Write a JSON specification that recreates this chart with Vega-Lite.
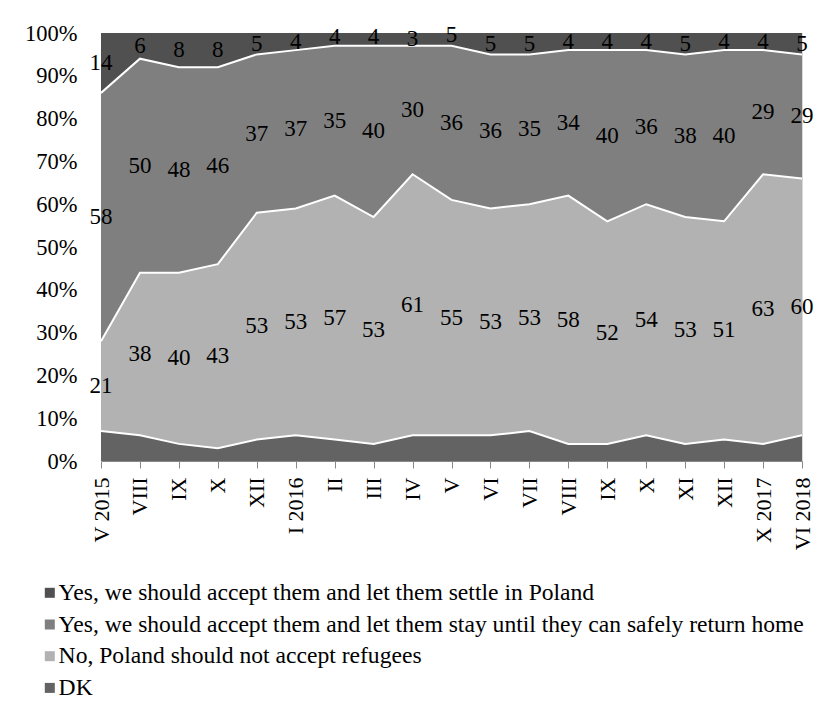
{
  "$schema": "https://vega.github.io/schema/vega-lite/v6.json",
  "width": 701,
  "height": 428,
  "autosize": "none",
  "padding": {"left": 101, "top": 33, "right": 22, "bottom": 256},
  "background": "white",
  "config": {
    "font": "Liberation Serif",
    "view": {"stroke": "#d9d9d9", "strokeWidth": 1}
  },
  "data": {
    "values": [
      {"d": "2015-05", "settle": 14, "stay": 58, "no": 21, "dk": 7},
      {"d": "2015-08", "settle": 6, "stay": 50, "no": 38, "dk": 6},
      {"d": "2015-09", "settle": 8, "stay": 48, "no": 40, "dk": 4},
      {"d": "2015-10", "settle": 8, "stay": 46, "no": 43, "dk": 3},
      {"d": "2015-12", "settle": 5, "stay": 37, "no": 53, "dk": 5},
      {"d": "2016-01", "settle": 4, "stay": 37, "no": 53, "dk": 6},
      {"d": "2016-02", "settle": 4, "stay": 35, "no": 57, "dk": 5},
      {"d": "2016-03", "settle": 4, "stay": 40, "no": 53, "dk": 4},
      {"d": "2016-04", "settle": 3, "stay": 30, "no": 61, "dk": 6},
      {"d": "2016-05", "settle": 5, "stay": 36, "no": 55, "dk": 6},
      {"d": "2016-06", "settle": 5, "stay": 36, "no": 53, "dk": 6},
      {"d": "2016-07", "settle": 5, "stay": 35, "no": 53, "dk": 7},
      {"d": "2016-08", "settle": 4, "stay": 34, "no": 58, "dk": 4},
      {"d": "2016-09", "settle": 4, "stay": 40, "no": 52, "dk": 4},
      {"d": "2016-10", "settle": 4, "stay": 36, "no": 54, "dk": 6},
      {"d": "2016-11", "settle": 5, "stay": 38, "no": 53, "dk": 4},
      {"d": "2016-12", "settle": 4, "stay": 40, "no": 51, "dk": 5},
      {"d": "2017-10", "settle": 4, "stay": 29, "no": 63, "dk": 4},
      {"d": "2018-06", "settle": 5, "stay": 29, "no": 60, "dk": 6}
    ]
  },
  "transform": [
    {"fold": ["dk", "no", "stay", "settle"], "as": ["key", "value"]},
    {"calculate": "indexof(['dk','no','stay','settle'], datum.key)", "as": "ord"},
    {"stack": "value", "groupby": ["d"], "sort": [{"field": "ord", "order": "ascending"}], "as": ["y0", "y1"]},
    {"calculate": "(datum.y0 + datum.y1) / 2", "as": "ymid"}
  ],
  "encoding": {
    "x": {
      "field": "d",
      "type": "ordinal",
      "sort": "ascending",
      "scale": {"type": "point", "padding": 0},
      "axis": {
        "title": null,
        "labelAngle": -90,
        "labelFontSize": 22,
        "labelColor": "#000000",
        "labelPadding": 9,
        "tickSize": 7,
        "tickColor": "#888888",
        "domainColor": "#888888",
        "labelExpr": "{'2015-05':'V 2015','2015-08':'VIII','2015-09':'IX','2015-10':'X','2015-12':'XII','2016-01':'I 2016','2016-02':'II','2016-03':'III','2016-04':'IV','2016-05':'V','2016-06':'VI','2016-07':'VII','2016-08':'VIII','2016-09':'IX','2016-10':'X','2016-11':'XI','2016-12':'XII','2017-10':'X 2017','2018-06':'VI 2018'}[datum.value]"
      }
    }
  },
  "layer": [
    {
      "mark": {"type": "area", "clip": true, "interpolate": "linear"},
      "encoding": {
        "y": {
          "field": "y1",
          "type": "quantitative",
          "scale": {"domain": [0, 100]},
          "axis": {
            "title": null,
            "values": [0, 10, 20, 30, 40, 50, 60, 70, 80, 90, 100],
            "labelExpr": "datum.value + '%'",
            "labelFontSize": 22.5,
            "labelColor": "#000000",
            "labelPadding": 24,
            "ticks": false,
            "grid": false,
            "domainColor": "#bfbfbf"
          }
        },
        "y2": {"field": "y0"},
        "color": {
          "field": "key",
          "type": "nominal",
          "scale": {
            "domain": ["settle", "stay", "no", "dk"],
            "range": ["#505050", "#7f7f7f", "#b2b2b2", "#636363"]
          },
          "legend": {
            "title": null,
            "orient": "none",
            "legendX": -63,
            "legendY": 548,
            "direction": "vertical",
            "symbolType": "square",
            "symbolSize": 100,
            "symbolStrokeWidth": 0,
            "labelFontSize": 23.6,
            "labelColor": "#000000",
            "labelOffset": -3,
            "rowPadding": 6.7,
            "labelLimit": 900,
            "labelExpr": "{'settle':'Yes, we should accept them and let them settle in Poland','stay':'Yes, we should accept them and let them stay until they can safely return home','no':'No, Poland should not accept refugees','dk':'DK'}[datum.label]"
          }
        }
      }
    },
    {
      "transform": [{"filter": "datum.key != 'settle'"}],
      "mark": {"type": "line", "color": "white", "strokeWidth": 2, "clip": true},
      "encoding": {
        "y": {"field": "y1", "type": "quantitative"},
        "detail": {"field": "key"}
      }
    },
    {
      "transform": [{"filter": "datum.key != 'dk'"}],
      "mark": {"type": "text", "fontSize": 23, "color": "#000000", "align": "center", "baseline": "middle"},
      "encoding": {
        "y": {"field": "ymid", "type": "quantitative"},
        "text": {"field": "value", "type": "quantitative"}
      }
    }
  ]
}
